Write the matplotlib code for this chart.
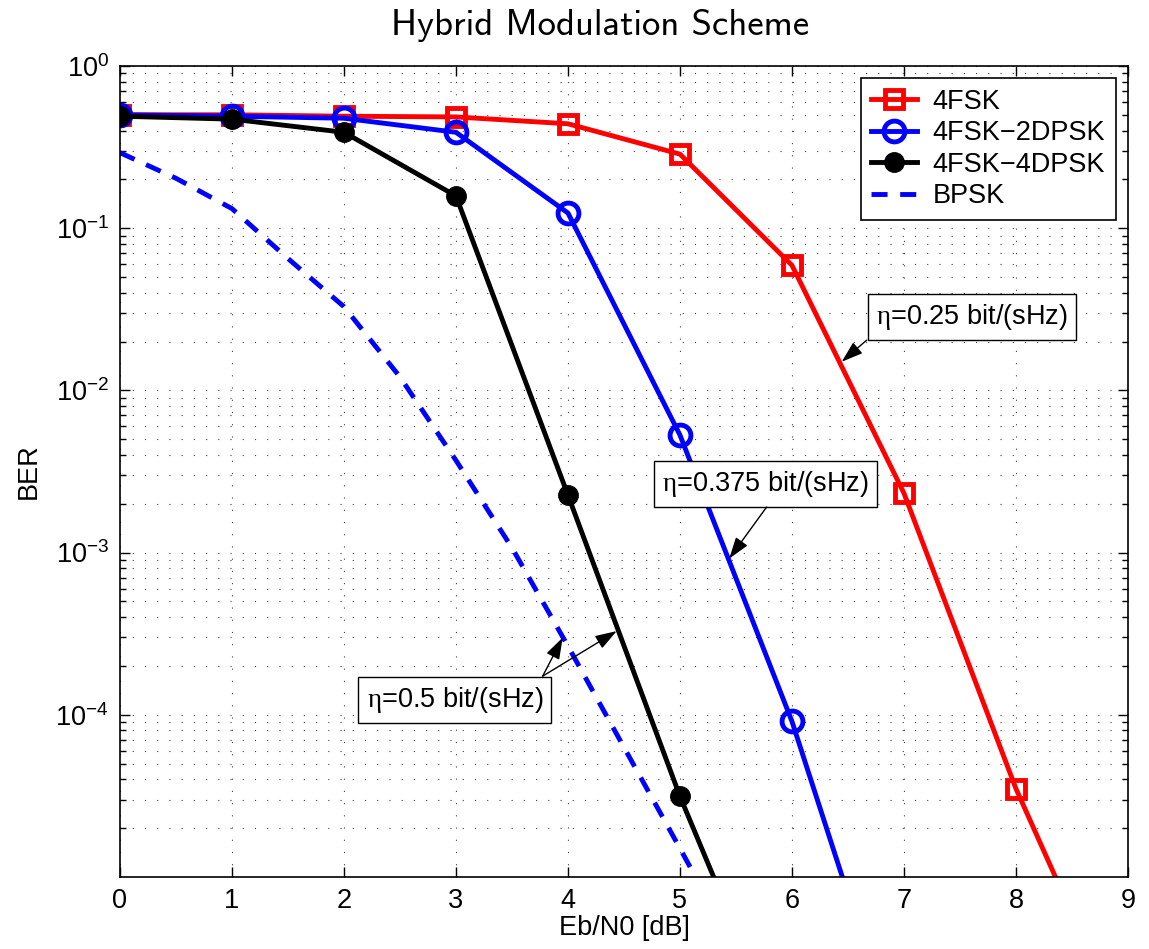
import matplotlib
matplotlib.use("Agg")
import matplotlib.pyplot as plt
from matplotlib.ticker import LogLocator, NullFormatter

plt.rcParams["font.family"] = ["Liberation Sans", "DejaVu Sans"]
plt.rcParams["mathtext.fontset"] = "custom"
plt.rcParams["mathtext.rm"] = "Liberation Serif"

# Eb/N0 [dB]
snr_fsk = [0, 1, 2, 3, 4, 5, 6, 7, 8, 9]
ber_fsk = [0.50, 0.50, 0.49, 0.485, 0.44, 0.286, 0.059, 0.00232, 3.5e-5, 1.0e-6]

snr_2dpsk = [0, 1, 2, 3, 4, 5, 6, 7]
ber_2dpsk = [0.50, 0.49, 0.476, 0.39, 0.124, 0.0053, 9.1e-5, 6.7e-7]

snr_4dpsk = [0, 1, 2, 3, 4, 5, 6]
ber_4dpsk = [0.49, 0.47, 0.39, 0.158, 0.00226, 3.14e-5, 7.0e-7]

snr_bpsk = [0, 0.5, 1, 1.5, 2, 2.5, 3, 3.5, 4, 4.5, 5, 5.5]
ber_bpsk = [0.292, 0.203, 0.132, 0.065, 0.0328, 0.0121, 0.0037, 0.00107,
            2.65e-4, 6.3e-5, 1.5e-5, 3.5e-6]

labels = ["4FSK", "4FSK\u22122DPSK", "4FSK\u22124DPSK", "BPSK"]

FS = 19.5

fig = plt.figure(figsize=(11.49, 9.49), dpi=100)
ax = fig.add_axes([0.1044, 0.0759, 0.8773, 0.8546])

ax.semilogy(snr_fsk, ber_fsk, color="#ff0000", lw=3.5, marker="s", ms=13,
            mfc="none", mew=3.5, label=labels[0])
ax.semilogy(snr_2dpsk, ber_2dpsk, color="#0000ff", lw=3.5, marker="o", ms=15,
            mfc="none", mew=3.5, label=labels[1])
ax.semilogy(snr_4dpsk, ber_4dpsk, color="k", lw=3.5, marker="o", ms=14,
            mfc="k", label=labels[2])
ax.semilogy(snr_bpsk, ber_bpsk, color="#0000ff", lw=3.5,
            linestyle=(0, (3.3, 2.6)), label=labels[3])

ax.set_xlim(0, 9)
ax.set_ylim(1e-5, 1)
ax.set_xticks(range(10))
ax.set_yticks([1e-4, 1e-3, 1e-2, 1e-1, 1])
ax.yaxis.set_minor_locator(LogLocator(base=10, subs=range(2, 10), numticks=20))
ax.yaxis.set_minor_formatter(NullFormatter())

ax.tick_params(which="both", direction="in", top=True, right=True,
               labelsize=FS, width=1)
ax.tick_params(which="major", length=7, pad=8)
ax.tick_params(which="minor", length=4)

grid_style = dict(color="0.25", linestyle=(0, (1, 10)), lw=0.8)
ax.grid(True, which="major", axis="both", **grid_style)
ax.grid(True, which="minor", axis="y", **grid_style)
for s in ax.spines.values():
    s.set_linewidth(1.2)

ax.set_xlabel("Eb/N0 [dB]", fontsize=FS, labelpad=1)
ax.set_ylabel("BER", fontsize=FS, labelpad=10)
fig.text(0.522, 1 - 25 / 949, "Hybrid Modulation Scheme", fontsize=26.5,
         family="cmss10", ha="center", va="center")

leg = ax.legend(loc="upper right", fontsize=FS, handlelength=1.7,
                handletextpad=0.55, labelspacing=0.2, borderaxespad=0.45,
                fancybox=False, edgecolor="k", framealpha=1, numpoints=1)
leg.get_frame().set_linewidth(1.2)

box = dict(boxstyle="square,pad=0.3", fc="white", ec="k", lw=1)
arrow = dict(arrowstyle="-|>,head_length=0.6,head_width=0.2", color="k",
             lw=1, mutation_scale=22, shrinkA=0, shrinkB=0)

ax.text(7.61, 0.0282, r"$\mathrm{\eta}$=0.25 bit/(sHz)", fontsize=FS,
        ha="center", va="center", bbox=box, zorder=5)
ax.annotate("", xy=(6.444, 0.0150), xytext=(6.667, 0.0204),
            arrowprops=arrow, zorder=6)

ax.text(5.76, 0.00264, r"$\mathrm{\eta}$=0.375 bit/(sHz)", fontsize=FS,
        ha="center", va="center", bbox=box, zorder=5)
ax.annotate("", xy=(5.440, 9.18e-4), xytext=(5.774, 0.00191),
            arrowprops=arrow, zorder=6)

ax.text(2.99, 1.23e-4, r"$\mathrm{\eta}$=0.5 bit/(sHz)", fontsize=FS,
        ha="center", va="center", bbox=box, zorder=5)
ax.annotate("", xy=(3.953, 2.99e-4), xytext=(3.774, 1.73e-4),
            arrowprops=arrow, zorder=6)
ax.annotate("", xy=(4.435, 3.28e-4), xytext=(3.774, 1.73e-4),
            arrowprops=arrow, zorder=6)

fig.savefig("out.png", dpi=100)
